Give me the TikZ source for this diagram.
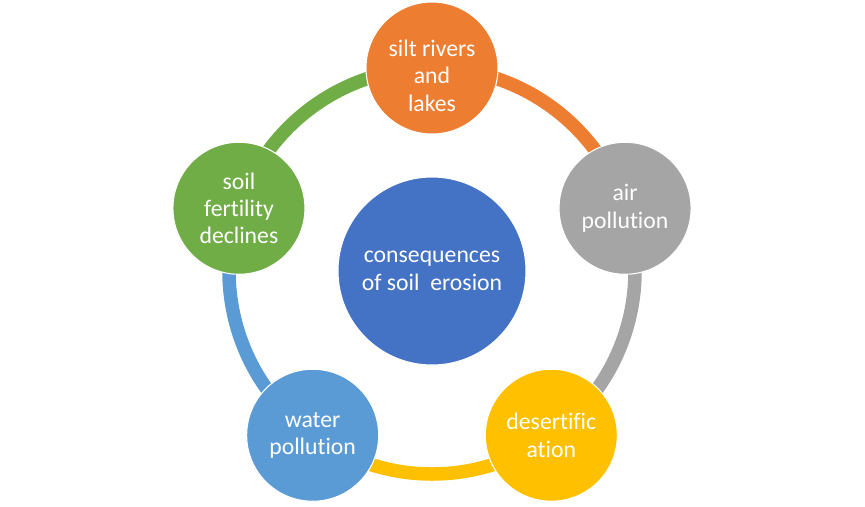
\documentclass[tikz,border=0pt]{standalone}
\usepackage{fontspec}
\setmainfont{Carlito}[Ligatures=CommonOff]
\definecolor{cblue}{HTML}{4472C4}
\definecolor{corange}{HTML}{ED7D31}
\definecolor{cgray}{HTML}{A5A5A5}
\definecolor{cyellow}{HTML}{FFC000}
\definecolor{clblue}{HTML}{5B9BD5}
\definecolor{cgreen}{HTML}{70AD47}
\tikzset{
  ring/.style={line width=0.27cm},
  bubble/.style={circle, draw=white, line width=0.6pt, minimum size=2.64cm, inner sep=0pt,
    text=white, align=center, font=\fontsize{13.5}{15.6}\selectfont},
  bubbletext/.style={text=white, align=center, font=\fontsize{13.5}{15.6}\selectfont},
}
\begin{document}
\begin{tikzpicture}
            \useasboundingbox (-8.64,-4.70) rectangle (8.66,5.42);
            \coordinate (p1) at (90:4.06);
            \coordinate (p2) at (18:4.06);
            \coordinate (p3) at (-54:4.06);
            \coordinate (p4) at (-126:4.06);
            \coordinate (p5) at (162:4.06);
            \draw[ring, corange] (p1) arc[start angle=90, end angle=18, radius=4.06];
            \draw[ring, cgray] (p2) arc[start angle=18, end angle=-54, radius=4.06];
            \draw[ring, cyellow] (p3) arc[start angle=-54, end angle=-126, radius=4.06];
            \draw[ring, clblue] (p4) arc[start angle=-126, end angle=-198, radius=4.06];
            \draw[ring, cgreen] (p5) arc[start angle=162, end angle=90, radius=4.06];
            \node[bubble, fill=cblue, minimum size=3.76cm] (center) at (0,0) {consequences\\of soil\ \ erosion};
            \node[bubble, fill=corange] (silt) at (p1) {};
            \node[bubbletext] (silttext) at ([yshift=-0.15cm]silt.center) {silt rivers\\and\\lakes};
            \node[bubble, fill=cgray] (air) at (p2) {air\\pollution};
            \node[bubble, fill=cyellow] (desert) at (p3) {desertific\\ation};
            \node[bubble, fill=clblue] (water) at (p4) {water\\pollution};
            \node[bubble, fill=cgreen] (soil) at (p5) {soil\\fertility\\declines};
        \end{tikzpicture}
\end{document}
